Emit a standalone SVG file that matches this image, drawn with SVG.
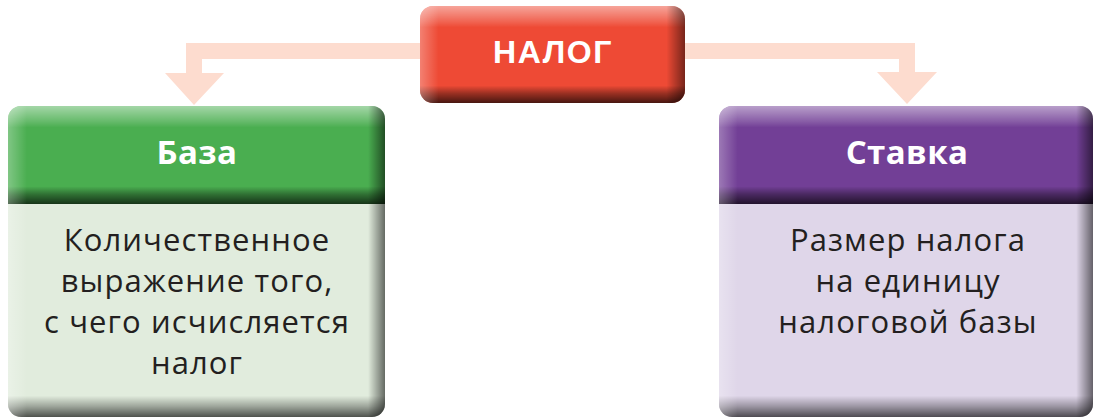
<svg xmlns="http://www.w3.org/2000/svg" width="1095" height="418" viewBox="0 0 1095 418">
<defs>
  <linearGradient id="vTop" x1="0" y1="0" x2="0" y2="1">
    <stop offset="0" stop-color="#fff" stop-opacity="0.5"/>
    <stop offset="0.16" stop-color="#fff" stop-opacity="0.15"/>
    <stop offset="0.22" stop-color="#fff" stop-opacity="0"/>
    <stop offset="0.82" stop-color="#000" stop-opacity="0"/>
    <stop offset="0.9" stop-color="#000" stop-opacity="0.35"/>
    <stop offset="1" stop-color="#000" stop-opacity="0.7"/>
  </linearGradient>
  <linearGradient id="vBody" x1="0" y1="0" x2="0" y2="1">
    <stop offset="0" stop-color="#000" stop-opacity="0"/>
    <stop offset="0.9" stop-color="#000" stop-opacity="0"/>
    <stop offset="0.95" stop-color="#000" stop-opacity="0.3"/>
    <stop offset="1" stop-color="#000" stop-opacity="0.65"/>
  </linearGradient>
  <linearGradient id="hSide" x1="0" y1="0" x2="1" y2="0">
    <stop offset="0" stop-color="#fff" stop-opacity="0.3"/>
    <stop offset="0.05" stop-color="#fff" stop-opacity="0"/>
    <stop offset="0.955" stop-color="#000" stop-opacity="0"/>
    <stop offset="1" stop-color="#000" stop-opacity="0.55"/>
  </linearGradient>
  <linearGradient id="hSideR" x1="0" y1="0" x2="1" y2="0">
    <stop offset="0" stop-color="#fff" stop-opacity="0.3"/>
    <stop offset="0.07" stop-color="#fff" stop-opacity="0"/>
    <stop offset="0.93" stop-color="#000" stop-opacity="0"/>
    <stop offset="1" stop-color="#000" stop-opacity="0.5"/>
  </linearGradient>
  <clipPath id="cRed"><rect x="420" y="6" width="265" height="97" rx="13"/></clipPath>
  <clipPath id="cLeft"><rect x="8" y="106" width="377" height="311" rx="13"/></clipPath>
  <clipPath id="cRight"><rect x="719" y="106" width="374" height="311" rx="13"/></clipPath>
</defs>
<style>
  .arrow { fill: #FDDCCF; }
  .head { font-family: "Open Sans", "Noto Sans", sans-serif; font-weight: 700; font-size: 33px; letter-spacing: 0.4px; fill: #fff; text-anchor: middle; }
  .title { font-family: "Liberation Sans", Arial, sans-serif; font-weight: 700; font-size: 32px; letter-spacing: 1.6px; fill: #fff; text-anchor: middle; }
  .body { font-family: "Open Sans", "Noto Sans", sans-serif; font-size: 31px; letter-spacing: 1.1px; fill: #231F20; text-anchor: middle; }
</style>

<g id="connectors">
  <path class="arrow" d="M420,43 H186 V73 H165 L194,105 L224,73 H202 V59 H420 Z"/>
  <path class="arrow" d="M685,43 H915 V72 H937 L907,104 L877,72 H899 V59 H685 Z"/>
</g>

<g id="nalog">
  <g clip-path="url(#cRed)">
    <rect x="420" y="6" width="265" height="97" fill="#EE4A35"/>
    <rect x="420" y="6" width="265" height="97" fill="url(#vTop)"/>
    <rect x="420" y="6" width="265" height="97" fill="url(#hSideR)"/>
  </g>
  <text class="title" x="553" y="63">НАЛОГ</text>
</g>

<g id="baza">
  <g clip-path="url(#cLeft)">
    <rect x="8" y="204" width="377" height="213" fill="#E1ECDD"/>
    <rect x="8" y="204" width="377" height="213" fill="url(#vBody)"/>
    <rect x="8" y="204" width="377" height="213" fill="url(#hSide)"/>
    <rect x="8" y="106" width="377" height="98" fill="#4AAE50"/>
    <rect x="8" y="106" width="377" height="98" fill="url(#vTop)"/>
    <rect x="8" y="106" width="377" height="98" fill="url(#hSide)"/>
  </g>
  <text class="head" x="197" y="164">База</text>
  <text class="body" x="197" y="251">Количественное</text>
  <text class="body" x="197" y="292">выражение того,</text>
  <text class="body" x="197" y="333">с чего исчисляется</text>
  <text class="body" x="197" y="374">налог</text>
</g>

<g id="stavka">
  <g clip-path="url(#cRight)">
    <rect x="719" y="204" width="374" height="213" fill="#DFD6E9"/>
    <rect x="719" y="204" width="374" height="213" fill="url(#vBody)"/>
    <rect x="719" y="204" width="374" height="213" fill="url(#hSide)"/>
    <rect x="719" y="106" width="374" height="98" fill="#723F96"/>
    <rect x="719" y="106" width="374" height="98" fill="url(#vTop)"/>
    <rect x="719" y="106" width="374" height="98" fill="url(#hSide)"/>
  </g>
  <text class="head" x="907" y="164">Ставка</text>
  <text class="body" x="908" y="251">Размер налога</text>
  <text class="body" x="908" y="292">на единицу</text>
  <text class="body" x="908" y="333">налоговой базы</text>
</g>
</svg>
